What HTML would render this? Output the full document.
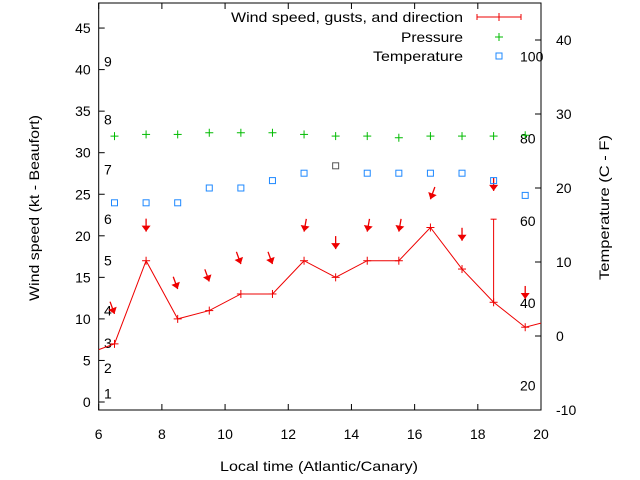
<!DOCTYPE html>
<html><head><meta charset="utf-8"><style>
body{margin:0;background:#fff}
svg{display:block;font-family:"Liberation Sans",sans-serif;font-size:14px}
</style></head><body>
<svg id="c" width="640" height="480">
<g id="g"></g>
</svg>
<script>
const hours=[6.5,7.5,8.5,9.5,10.5,11.5,12.5,13.5,14.5,15.5,16.5,17.5,18.5,19.5];
const windSpeed=[7,17,10,11,13,13,17,15,17,17,21,16,12,9];
const gustLevel=[10.6,20.5,13.6,14.5,16.6,16.6,20.5,18.4,20.5,20.5,24.4,19.4,25.4,12.4];
const windDir=[340,0,340,340,340,340,10,0,10,10,20,0,0,0];
const gustBarTop=[null,null,null,null,null,null,null,null,null,null,null,null,22,null];
const pressure=[32.0,32.2,32.2,32.4,32.4,32.4,32.2,32.0,32.0,31.8,32.0,32.0,32.0,32.1];
const temperature=[18,18,18,20,20,21,22,23,22,22,22,22,21,19];
const xTicks=[6,8,10,12,14,16,18,20];
const yTicks=[0,5,10,15,20,25,30,35,40,45];
const y2Ticks=[-10,0,10,20,30,40];
const beaufort=[1,4.1,7.1,11,17,22,28,34,41];
const fahrenheit=[20,40,60,80,100];
const L=98.7,R=541,T=3,B=410;
const X=h=>L+(h-6)/14*(R-L);
const Y=v=>402-v*8.31;
const Y2=c=>336-c*7.4;
const g=document.getElementById('g');
const NS='http://www.w3.org/2000/svg';
function el(tag,attrs,parent){const e=document.createElementNS(NS,tag);for(const k in attrs)e.setAttribute(k,attrs[k]);(parent||g).appendChild(e);return e;}
const defs=el('defs',{});const cp=el('clipPath',{id:'clp'},defs);el('rect',{x:L,y:T,width:R-L,height:B-T},cp);
let f=el('rect',{x:L,y:T,width:R-L,height:B-T,fill:'none',stroke:'#000','stroke-width':1});

xTicks.forEach(t=>{const x=X(t);
 el('line',{x1:x,y1:B,x2:x,y2:B-6,stroke:'#000'});el('line',{x1:x,y1:T,x2:x,y2:T+6,stroke:'#000'});
 const tx=el('text',{x:x,y:439,'text-anchor':'middle'});tx.textContent=t;
 });
yTicks.forEach(t=>{const y=Y(t);el('line',{x1:L,y1:y,x2:L+6,y2:y,stroke:'#000'});
 const tx=el('text',{x:L-8,y:y+5,'text-anchor':'end'});tx.textContent=t;
 });
y2Ticks.forEach(t=>{const y=Y2(t);el('line',{x1:R,y1:y,x2:R-6,y2:y,stroke:'#000'});
 const tx=el('text',{x:R+15,y:y+5,'text-anchor':'start'});tx.textContent=t;
 });
beaufort.forEach((v,i)=>{const tx=el('text',{x:104,y:Y(v)+5});tx.textContent=i+1;
 });
fahrenheit.forEach(v=>{const tx=el('text',{x:520,y:Y2((v-32)*5/9)+5});tx.textContent=v;
 });
let t1=el('text',{x:220,y:471,textLength:198,lengthAdjust:'spacingAndGlyphs'});t1.textContent='Local time (Atlantic/Canary)';

let t2=el('text',{x:0,y:0,textLength:186,lengthAdjust:'spacingAndGlyphs',transform:'translate(39,301) rotate(-90)'});t2.textContent='Wind speed (kt - Beaufort)';

let t3=el('text',{x:0,y:0,textLength:145,lengthAdjust:'spacingAndGlyphs',transform:'translate(609,280) rotate(-90)'});t3.textContent='Temperature (C - F)';

const cg=el('g',{'clip-path':'url(#clp)'});
let pts=hours.map((h,i)=>X(h)+','+Y(windSpeed[i]));
pts.unshift(X(6)+','+Y(6.3));pts.push(X(20)+','+Y(9.5));
let wl=el('polyline',{points:pts.join(' '),fill:'none',stroke:'#e00','stroke-width':1},cg);

function plus(x,y,c,p){el('line',{x1:x-4,y1:y,x2:x+4,y2:y,stroke:c},p);el('line',{x1:x,y1:y-4,x2:x,y2:y+4,stroke:c},p);}
hours.forEach((h,i)=>{const x=X(h);
 plus(x,Y(windSpeed[i]),'#e00',cg);
 if(gustBarTop[i]!=null){el('line',{x1:x,y1:Y(windSpeed[i]),x2:x,y2:Y(gustBarTop[i]),stroke:'#e00'},cg);
  el('line',{x1:x-3,y1:Y(gustBarTop[i]),x2:x+3,y2:Y(gustBarTop[i]),stroke:'#e00'},cg);}
 const a=windDir[i]*Math.PI/180,hx=x,hy=Y(gustLevel[i]);
 const dx=Math.sin(a),dy=-Math.cos(a);
 const tx=hx+dx*13,ty=hy+dy*13;
 const ag=el('g',{},cg);
 el('line',{x1:tx,y1:ty,x2:hx,y2:hy,stroke:'#e00','stroke-width':1.3},ag);
 const px=-dy,py=dx;
 el('polygon',{points:`${hx},${hy} ${hx+dx*6+px*4.5},${hy+dy*6+py*4.5} ${hx+dx*6-px*4.5},${hy+dy*6-py*4.5}`,fill:'#e00'},ag);
 plus(x,Y(pressure[i]),'#0b0',cg);
 const s=el('rect',{x:x-3,y:Y2(temperature[i])-3,width:6,height:6,fill:'none',stroke:i==7?'#555':'#1e88ff','stroke-width':1},cg);
 
});
const lg=el('g',{});
[['Wind speed, gusts, and direction',22,232],['Pressure',42,62],['Temperature',61,90]].forEach(r=>{const tx=el('text',{x:463-r[2],y:r[1],textLength:r[2],lengthAdjust:'spacingAndGlyphs'},lg);tx.textContent=r[0];});
el('line',{x1:477,y1:17,x2:521,y2:17,stroke:'#e00'},lg);
[477,521].forEach(x=>el('line',{x1:x,y1:14,x2:x,y2:20,stroke:'#e00'},lg));
plus(499,17,'#e00',lg);plus(499,37,'#0b0',lg);
el('rect',{x:496,y:53,width:6,height:6,fill:'none',stroke:'#1e88ff'},lg);
</script>
</body></html>
